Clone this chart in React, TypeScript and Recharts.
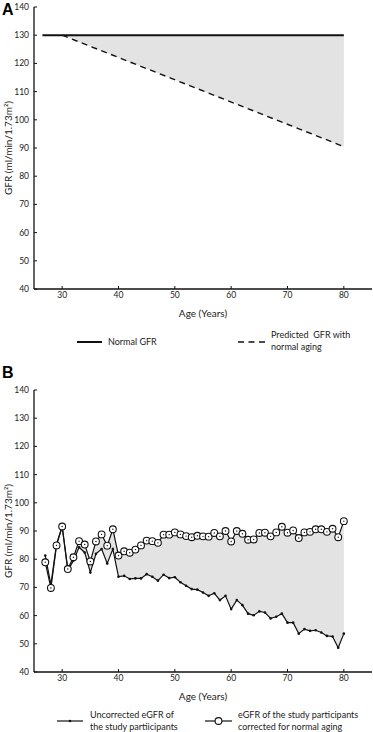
import React from "react";
import { ComposedChart, Line, Area, XAxis, YAxis } from "recharts";

const FONT = "Lato, 'Liberation Sans', sans-serif";

// panel A: reference lines
const normalAges = [26.5, 30, 80];
const normalGfr = [130, 130, 130];
const predictedAges = [30, 80];
const predictedGfr = [130, 90.5];

// panel B: study participants, by age
const ages = [
  27, 28, 29, 30, 31, 32, 33, 34, 35, 36, 37, 38, 39, 40, 41, 42, 43, 44, 45,
  46, 47, 48, 49, 50, 51, 52, 53, 54, 55, 56, 57, 58, 59, 60, 61, 62, 63, 64,
  65, 66, 67, 68, 69, 70, 71, 72, 73, 74, 75, 76, 77, 78, 79, 80,
];
const uncorrected = [
  81.3, 71.0, 85.4, 91.6, 76.0, 79.5, 84.2, 82.4, 75.3, 81.9, 83.6, 78.5, 83.6,
  73.8, 74.1, 73.0, 73.2, 73.2, 74.7, 73.8, 72.4, 74.5, 73.3, 73.6, 71.8, 70.6,
  69.4, 69.2, 68.2, 67.0, 67.9, 65.5, 67.0, 62.3, 65.5, 63.7, 60.7, 60.1, 61.5,
  61.1, 59.0, 59.6, 60.7, 57.5, 57.5, 53.6, 55.2, 54.6, 54.8, 54.0, 52.8, 52.6,
  48.6, 53.6,
];
const corrected = [
  78.9, 69.8, 84.9, 91.6, 76.5, 80.7, 86.4, 85.2, 79.2, 86.3, 88.8, 84.8, 90.6,
  81.3, 82.8, 82.3, 83.4, 84.9, 86.6, 86.4, 85.8, 88.7, 88.7, 89.5, 88.8, 88.2,
  87.8, 88.3, 88.1, 88.0, 89.3, 88.1, 90.0, 86.3, 90.0, 89.0, 86.9, 87.0, 89.3,
  89.4, 88.1, 89.5, 91.5, 89.4, 90.2, 87.5, 89.5, 89.7, 90.6, 90.6, 89.7, 90.8,
  87.8, 93.5,
];

const yTicks = [40, 50, 60, 70, 80, 90, 100, 110, 120, 130, 140];
const xTicks = [30, 40, 50, 60, 70, 80];
const yLabel = "GFR (ml/min/1.73m\u00b2)";
const xLabel = "Age (Years)";

const dataA = normalAges.map((age, i) => {
  const j = predictedAges.indexOf(age);
  const row: any = { age, normal: normalGfr[i] };
  if (j >= 0) {
    row.predicted = predictedGfr[j];
    row.band = [predictedGfr[j], normalGfr[i]];
  }
  return row;
});

const dataB = ages.map((age, i) => ({
  age,
  unc: uncorrected[i],
  cor: corrected[i],
  band: age >= 30 ? [uncorrected[i], corrected[i]] : undefined,
}));

const W = 373;
const H = 319;
const FILL = "#e3e3e3";

const tickStyle = { fontSize: 8.5, fontFamily: FONT, fill: "#222" };

function YTitle(props: any) {
  const vb = props.viewBox || { y: 7, height: 282 };
  const cx = 9;
  const cy = vb.y + vb.height / 2;
  return (
    <text
      x={cx}
      y={cy}
      transform={`rotate(-90 ${cx} ${cy})`}
      textAnchor="middle"
      dominantBaseline="middle"
      fontSize={10}
      fontFamily={FONT}
      fill="#222"
    >
      {yLabel}
    </text>
  );
}

function CircleDot(props: any) {
  const { cx, cy, index } = props;
  if (cx == null || cy == null) return <g key={`c${index}`} />;
  return (
    <g key={`c${index}`}>
      <circle cx={cx} cy={cy} r={3.4} fill="#fff" stroke="#111" strokeWidth={1.1} />
      <circle cx={cx} cy={cy} r={0.7} fill="#111" />
    </g>
  );
}

function SmallDot(props: any) {
  const { cx, cy, index } = props;
  if (cx == null || cy == null) return <g key={`s${index}`} />;
  return <circle key={`s${index}`} cx={cx} cy={cy} r={1.3} fill="#111" />;
}

function axisParts() {
  return [
    <XAxis
      key="x"
      dataKey="age"
      type="number"
      domain={[25, 85]}
      ticks={xTicks}
      allowDataOverflow
      height={30}
      tickSize={-3}
      tickMargin={6}
      tick={tickStyle}
      axisLine={{ stroke: "#111", strokeWidth: 1.3 }}
      tickLine={{ stroke: "#111", strokeWidth: 1 }}
      label={{
        value: xLabel,
        position: "insideBottom",
        offset: 2,
        fontSize: 10,
        fontFamily: FONT,
        fill: "#222",
      }}
    />,
    <YAxis
      key="y"
      type="number"
      domain={[40, 140]}
      ticks={yTicks}
      width={34}
      tickSize={-3}
      tickMargin={8}
      tick={tickStyle}
      axisLine={{ stroke: "#111", strokeWidth: 1.3 }}
      tickLine={{ stroke: "#111", strokeWidth: 1 }}
      label={{ content: <YTitle /> }}
    />,
  ];
}

function PanelA() {
  return (
    <ComposedChart
      width={W}
      height={H}
      data={dataA}
      margin={{ top: 7, right: 1, bottom: 0, left: 0 }}
    >
      {axisParts()}
      <Area
        dataKey="band"
        stroke="none"
        fill={FILL}
        fillOpacity={1}
        isAnimationActive={false}
        type="linear"
      />
      <Line
        dataKey="predicted"
        stroke="#111"
        strokeWidth={1.4}
        strokeDasharray="6 4.5"
        dot={false}
        type="linear"
        connectNulls
        isAnimationActive={false}
      />
      <Line
        dataKey="normal"
        stroke="#111"
        strokeWidth={2}
        dot={false}
        type="linear"
        isAnimationActive={false}
      />
    </ComposedChart>
  );
}

function PanelB() {
  return (
    <ComposedChart
      width={W}
      height={H}
      data={dataB}
      margin={{ top: 7, right: 1, bottom: 0, left: 0 }}
    >
      {axisParts()}
      <Area
        dataKey="band"
        stroke="none"
        fill={FILL}
        fillOpacity={1}
        isAnimationActive={false}
        type="linear"
      />
      <Line
        dataKey="unc"
        stroke="#111"
        strokeWidth={1.2}
        dot={SmallDot}
        type="linear"
        isAnimationActive={false}
      />
      <Line
        dataKey="cor"
        stroke="#111"
        strokeWidth={1.2}
        dot={CircleDot}
        type="linear"
        isAnimationActive={false}
      />
    </ComposedChart>
  );
}

function Overlay() {
  const txt = { fontSize: 9, fontFamily: FONT, fill: "#222", style: { whiteSpace: "pre" as const } };
  return (
    <svg
      width={W}
      height={732}
      style={{ position: "absolute", left: 0, top: 0, pointerEvents: "none" }}
    >
      <text x={2} y={15} fontSize={16} fontWeight="bold" fontFamily="'Liberation Sans', Arial, sans-serif">
        A
      </text>
      <text x={2} y={378} fontSize={16} fontWeight="bold" fontFamily="'Liberation Sans', Arial, sans-serif">
        B
      </text>

      <line x1={77} x2={102} y1={342} y2={342} stroke="#111" strokeWidth={2} />
      <text x={108} y={345} {...txt}>Normal GFR</text>
      <line x1={238} x2={265} y1={342} y2={342} stroke="#111" strokeWidth={1.4} strokeDasharray="6 4.5" />
      <text x={271} y={338} {...txt}>{"Predicted  GFR with"}</text>
      <text x={271} y={350} {...txt}>normal aging</text>

      <line x1={57} x2={83} y1={721} y2={721} stroke="#111" strokeWidth={1.2} />
      <circle cx={70} cy={721} r={1.3} fill="#111" />
      <text x={90} y={718} {...txt}>Uncorrected eGFR of</text>
      <text x={90} y={730} {...txt}>the study partiicipants</text>
      <line x1={205} x2={232} y1={721} y2={721} stroke="#111" strokeWidth={1.2} />
      <circle cx={218.5} cy={721} r={3.4} fill="#fff" stroke="#111" strokeWidth={1.1} />
      <text x={238} y={718} {...txt}>eGFR of the study participants</text>
      <text x={238} y={730} {...txt}>corrected for normal aging</text>
    </svg>
  );
}

export default function App() {
  return (
    <div
      style={{
        position: "absolute",
        left: 0,
        top: 0,
        width: W,
        height: 732,
        background: "#fff",
      }}
    >
      <div style={{ position: "absolute", left: 0, top: 0 }}>
        <PanelA />
      </div>
      <div style={{ position: "absolute", left: 0, top: 383 }}>
        <PanelB />
      </div>
      <Overlay />
    </div>
  );
}
